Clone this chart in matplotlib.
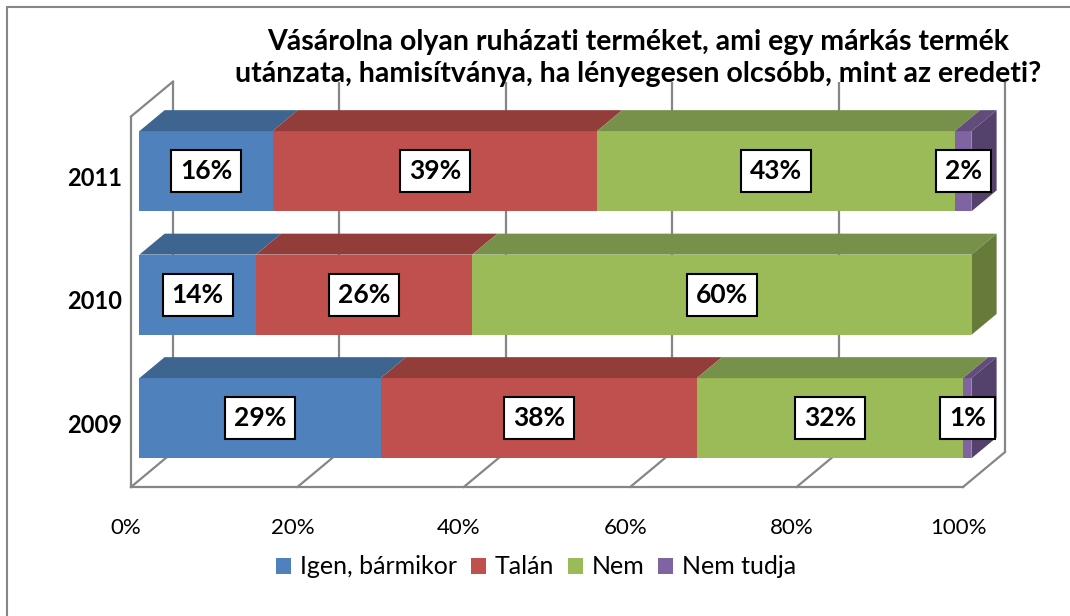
import matplotlib
matplotlib.use("Agg")
import matplotlib.pyplot as plt
from matplotlib.patches import Rectangle, Polygon, Patch

plt.rcParams['font.family'] = ['Lato', 'DejaVu Sans']

# ---- data ----
categories = ["2009", "2010", "2011"]
series_names = ["Igen, bármikor", "Talán", "Nem", "Nem tudja"]
igen = [29, 14, 16]
talan = [38, 26, 39]
nem = [32, 60, 43]
nem_tudja = [1, 0, 2]
tick_values = [0, 20, 40, 60, 80, 100]
tick_labels = ["0%", "20%", "40%", "60%", "80%", "100%"]
title = ("Vásárolna olyan ruházati terméket, ami egy márkás termék\n"
         "utánzata, hamisítványa, ha lényegesen olcsóbb, mint az eredeti?")

series = [igen, talan, nem, nem_tudja]
front_cols = ["#4F81BD", "#C0504D", "#9BBB59", "#8064A2"]
top_cols = ["#3D6590", "#933D3B", "#77904A", "#614C7C"]
side_cols = ["#3A5F88", "#8A3A38", "#667B3A", "#55426C"]

W, H = 1070, 616
fig = plt.figure(figsize=(W / 100, H / 100), dpi=100)

# outer chart border
fig.patches.append(Rectangle((7 / W, -0.05), 1.2, (H - 7) / H + 0.05,
                             transform=fig.transFigure, fill=False,
                             edgecolor="#868686", linewidth=1.5))

DX = 5.05     # depth offset in % units
DY = 0.283    # depth offset in category units
px_x = 8.32   # pixels per %
px_y = 123.5  # pixels per category
ax_left, ax_bottom = 131, 487
ax_w = (100 + DX) * px_x
ax_h = (3 + DY) * px_y
ax = fig.add_axes([ax_left / W, 1 - ax_bottom / H, ax_w / W, ax_h / H])
ax.set_xlim(0, 100 + DX)
ax.set_ylim(-0.5, 2.5 + DY)
ax.axis("off")

gc = "#868686"
glw = 1.6
y0, y1 = -0.5, 2.5
# back wall gridlines
for v in tick_values:
    ax.plot([v + DX, v + DX], [y0 + DY, y1 + DY], color=gc, lw=glw, zorder=1,
            clip_on=False, solid_capstyle="butt")
    ax.plot([v, v + DX], [y0, y0 + DY], color=gc, lw=glw, zorder=1, clip_on=False)
# left wall
ax.plot([0, 0], [y0, y1], color=gc, lw=glw, zorder=1, clip_on=False)
ax.plot([0, DX], [y1, y1 + DY], color=gc, lw=glw, zorder=1, clip_on=False)
# front floor edge
ax.plot([0, 100], [y0, y0], color=gc, lw=glw, zorder=1, clip_on=False)

# bars
h = 0.65
d0, d1 = 0.2, 0.8
for ci, cat in enumerate(categories):
    c = ci
    vals = [s[ci] for s in series]
    last = max(i for i, v in enumerate(vals) if v > 0)
    left = 0
    for si, v in enumerate(vals):
        if v <= 0:
            continue
        L, R = left, left + v
        fb = c - h / 2 + d0 * DY
        ft = c + h / 2 + d0 * DY
        ax.add_patch(Rectangle((L + d0 * DX, fb), v, h, facecolor=front_cols[si],
                               edgecolor="none", zorder=3, clip_on=False))
        ax.add_patch(Polygon([(L + d0 * DX, ft), (R + d0 * DX, ft),
                              (R + d1 * DX, c + h / 2 + d1 * DY),
                              (L + d1 * DX, c + h / 2 + d1 * DY)],
                             closed=True, facecolor=top_cols[si], edgecolor="none",
                             zorder=3, clip_on=False))
        if si == last:
            ax.add_patch(Polygon([(R + d0 * DX, fb), (R + d1 * DX, c - h / 2 + d1 * DY),
                                  (R + d1 * DX, c + h / 2 + d1 * DY), (R + d0 * DX, ft)],
                                 closed=True, facecolor=side_cols[si], edgecolor="none",
                                 zorder=3, clip_on=False))
        ax.text((L + R) / 2 + d0 * DX, c + d0 * DY, f"{v}%", ha="center", va="center",
                fontsize=19, fontweight="bold", color="black", zorder=5,
                bbox=dict(boxstyle="square,pad=0.34", facecolor="white",
                          edgecolor="black", linewidth=1.5))
        left = R
    ax.text(-1.1, c, cat, ha="right", va="center", fontsize=17, fontweight="bold")

for v, lab in zip(tick_values, tick_labels):
    ax.text(v - 0.6, y0 - 0.33, lab, ha="center", va="center", fontsize=16)

fig.text(638 / W, 1 - 58 / H, title, ha="center", va="center", fontsize=20.5,
         fontweight="bold", linespacing=1.25)

handles = [Patch(facecolor=c, edgecolor="none") for c in front_cols]
fig.legend(handles, series_names, loc="center", bbox_to_anchor=(536 / W, 1 - 567 / H),
           ncol=4, frameon=False, fontsize=18, handlelength=0.6, handleheight=0.6,
           handletextpad=0.35, columnspacing=0.55, borderaxespad=0)

fig.savefig("out.png", dpi=100)
